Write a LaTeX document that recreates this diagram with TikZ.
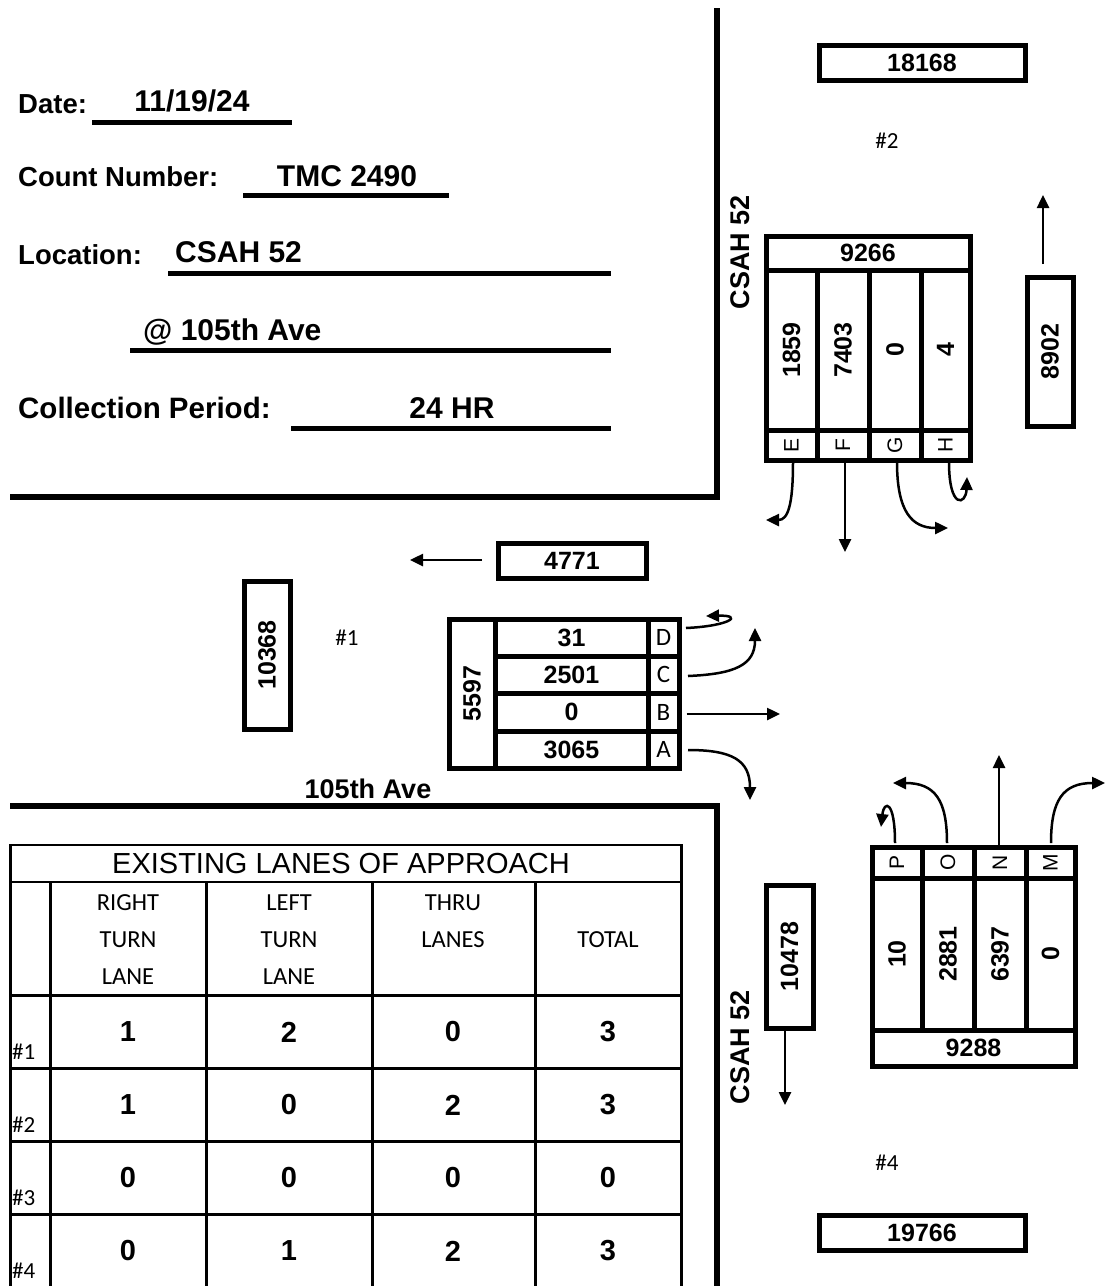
\documentclass[tikz,border=0pt]{standalone}
\usepackage{fontspec}
\setmainfont{Liberation Sans}
\newfontfamily\calfont{Carlito}
\usepackage{graphicx}
\usetikzlibrary{arrows.meta}
\newcommand\fsz[1]{\fontsize{#1}{#1}\selectfont}
\newcommand\rot[1]{\rotatebox{90}{#1}}
\begin{document}
\begin{tikzpicture}[x=1pt,y=-1pt,
  lbl/.style={font=\bfseries\fsz{27.5}, anchor=base west, inner sep=0},
  val/.style={font=\bfseries\fsz{30}, anchor=base, inner sep=0},
  road/.style={line width=6pt},
  uline/.style={line width=5pt},
  box/.style={draw, line width=5pt, inner sep=0, font=\bfseries\fsz{25}},
  cell/.style={draw, line width=5pt, inner sep=0, font=\bfseries\fsz{25}},
  lcell/.style={draw, line width=5pt, inner sep=0, font=\fsz{21}},
  ccell/.style={draw, line width=5pt, inner sep=0, font=\calfont\fsz{25}},
  arr/.style={line width=2.5pt, -{Triangle[length=13pt,width=12pt]}},
  hashlbl/.style={font=\calfont\fsz{23}, inner sep=0},
  tline/.style={line width=3pt},
  thin/.style={line width=1.5pt},
  hdr/.style={font=\calfont\fontsize{24.5}{37}\selectfont, align=center, inner sep=0},
  tval/.style={font=\bfseries\fsz{29}, inner sep=0},
  road lbl/.style={font=\bfseries\fsz{27}, inner sep=0}
]
\useasboundingbox (0,0) rectangle (1111,1286);
\fill[white] (0,0) rectangle (1111,1286);

% ---- roads
\draw[road] (717,8) -- (717,500);
\draw[road] (10,497) -- (720,497);
\draw[road] (10,806) -- (720,806);
\draw[road] (717,803) -- (717,1290);

% ---- header info
\node[lbl] (dateL) at (18,113) {Date:};
\node[val] (dateV) at (192,111) {11/19/24};
\draw[uline] (92,122) -- (292,122);
\node[lbl] (cntL) at (18,186) {Count Number:};
\node[val] (cntV) at (347,186) {TMC 2490};
\draw[uline] (243,195) -- (449,195);
\node[lbl] (locL) at (18,264) {Location:};
\node[val, anchor=base west] (locV) at (175,262) {CSAH 52};
\draw[uline] (168,273) -- (611,273);
\node[val, anchor=base west] (locV2) at (143,340) {@ 105th Ave};
\draw[uline] (130,350) -- (611,350);
\node[lbl, font=\bfseries\fsz{29.5}] (perL) at (18,418) {Collection Period:};
\node[val] (perV) at (452,418) {24 HR};
\draw[uline] (291,428) -- (611,428);

% ---- road names
\node[road lbl] (csahN) at (740,252) {\rot{CSAH 52}};
\node[road lbl] (csahS) at (740,1047) {\rot{CSAH 52}};
\node[road lbl, anchor=base] (ave) at (368,798) {105th Ave};

% ---- approach labels
\node[hashlbl] (h2) at (887,141) {\#2};
\node[hashlbl] (h1) at (347,638) {\#1};
\node[hashlbl] (h4) at (887,1163) {\#4};

% ---- single boxes
\node[box, minimum width=206, minimum height=35] (b18168) at (922,62.5) {18168};
\node[box, minimum width=46, minimum height=149] (b8902) at (1050,351.5) {\rot{8902}};
\node[box, minimum width=148, minimum height=35] (b4771) at (572,560.5) {4771};
\node[box, minimum width=46, minimum height=148] (b10368) at (267,655) {\rot{10368}};
\node[box, minimum width=47, minimum height=143] (b10478) at (789.5,956.5) {\rot{10478}};
\node[box, minimum width=206, minimum height=35] (b19766) at (922,1232.5) {19766};

\coordinate (e8902s) at (1043,264);
\coordinate (e8902e) at (1043,195);
\draw[arr] (e8902s) -- (e8902e);
\coordinate (e4771s) at (482,560);
\coordinate (e4771e) at (410,560);
\draw[arr] (e4771s) -- (e4771e);
\coordinate (e10478e) at (785,1105);
\draw[arr] (b10478.south -| e10478e) -- (e10478e);

% ---- group #2 (southbound)
\node[cell, minimum width=204, minimum height=34] (g2t) at (868,253) {9266};
\node[cell, minimum width=51, minimum height=160] (g2e) at (791.5,350) {\rot{1859}};
\node[cell, minimum width=52, minimum height=160] (g2f) at (843,350) {\rot{7403}};
\node[cell, minimum width=52, minimum height=160] (g2g) at (895,350) {\rot{0}};
\node[cell, minimum width=49, minimum height=160] (g2h) at (945.5,350) {\rot{4}};
\node[lcell, minimum width=51, minimum height=30] (lE) at (791.5,445) {\rot{E}};
\node[lcell, minimum width=52, minimum height=30] (lF) at (843,445) {\rot{F}};
\node[lcell, minimum width=52, minimum height=30] (lG) at (895,445) {\rot{G}};
\node[lcell, minimum width=49, minimum height=30] (lH) at (945.5,445) {\rot{H}};

\coordinate (eE) at (766,520);
\coordinate (eF) at (845,552);
\coordinate (eG) at (948,528);
\coordinate (eH) at (967,477);
\draw[arr] (793,462) .. controls (793,505) and (788,520) .. (eE);
\draw[arr] (lF.south -| eF) -- (eF);
\draw[arr] (897,462) .. controls (897,512) and (912,528) .. (eG);
\draw[arr] (949,462) .. controls (949,510) and (966,505) .. (eH);

% ---- group #1 (eastbound)
\node[cell, minimum width=46, minimum height=149] (g1t) at (472,693.5) {\rot{5597}};
\node[cell, minimum width=153, minimum height=37] (g1d) at (571.5,637.5) {31};
\node[cell, minimum width=153, minimum height=37] (g1c) at (571.5,674.5) {2501};
\node[cell, minimum width=153, minimum height=38] (g1b) at (571.5,712) {0};
\node[cell, minimum width=153, minimum height=37] (g1a) at (571.5,749.5) {3065};
\node[ccell, minimum width=31, minimum height=37] (lD) at (663.5,637.5) {D};
\node[ccell, minimum width=31, minimum height=37] (lC) at (663.5,674.5) {C};
\node[ccell, minimum width=31, minimum height=38] (lB) at (663.5,712) {B};
\node[ccell, minimum width=31, minimum height=37] (lA) at (663.5,749.5) {A};

\coordinate (eD) at (706,616);
\coordinate (eC) at (755,628);
\coordinate (eB) at (780,714);
\coordinate (eA) at (750,800);
\draw[arr] (686,628) .. controls (730,626) and (744,615) .. (eD);
\draw[arr] (688,676) .. controls (735,674) and (755,665) .. (eC);
\draw[arr] (lB.east |- eB) ++(5,0) -- (eB);
\draw[arr] (688,750) .. controls (732,750) and (750,760) .. (eA);

% ---- group #4 (northbound)
\node[lcell, minimum width=50, minimum height=31] (lP) at (897,862.5) {\rot{P}};
\node[lcell, minimum width=52, minimum height=31] (lO) at (948,862.5) {\rot{O}};
\node[lcell, minimum width=52, minimum height=31] (lN) at (1000,862.5) {\rot{N}};
\node[lcell, minimum width=49, minimum height=31] (lM) at (1050.5,862.5) {\rot{M}};
\node[cell, minimum width=50, minimum height=152] (g4p) at (897,954) {\rot{10}};
\node[cell, minimum width=52, minimum height=152] (g4o) at (948,954) {\rot{2881}};
\node[cell, minimum width=52, minimum height=152] (g4n) at (1000,954) {\rot{6397}};
\node[cell, minimum width=49, minimum height=152] (g4m) at (1050.5,954) {\rot{0}};
\node[cell, minimum width=203, minimum height=36] (g4t) at (973.5,1048) {9288};

\coordinate (eP) at (881,827);
\coordinate (eO) at (893,783);
\coordinate (eN) at (999,755);
\coordinate (eM) at (1105,783);
\draw[arr] (895,843) .. controls (895,800) and (884,800) .. (eP);
\draw[arr] (947,843) .. controls (947,800) and (935,783) .. (eO);
\draw[arr] (lN.north -| eN) -- (eN);
\draw[arr] (1051,843) .. controls (1051,800) and (1063,783) .. (eM);

% ---- table
\draw[thin] (10,845) -- (681,845);
\draw[thin] (10,882) -- (681,882);
\draw[tline] (10,844) -- (10,1290);
\draw[tline] (681,844) -- (681,1290);
\foreach \xx in {50,206,372,535} \draw[tline] (\xx,882) -- (\xx,1290);
\foreach \yy in {995,1068,1141,1214} \draw[tline] (10,\yy) -- (681,\yy);

\node[font=\fsz{29}, inner sep=0] (ttl) at (341,864) {EXISTING LANES OF APPROACH};
\node[hdr] (hR) at (128,940) {RIGHT\\TURN\\LANE};
\node[hdr] (hL) at (289,940) {LEFT\\TURN\\LANE};
\node[hdr] (hT) at (453,921.5) {THRU\\LANES};
\node[hdr] (hS) at (608,940) {TOTAL};

\node[hashlbl, anchor=west] (r1) at (12,1052) {\#1};
\node[hashlbl, anchor=west] (r2) at (12,1125) {\#2};
\node[hashlbl, anchor=west] (r3) at (12,1198) {\#3};
\node[hashlbl, anchor=west] (r4) at (12,1271) {\#4};

\node[tval] (v11) at (128,1032) {1};
\node[tval] (v12) at (289,1032) {2};
\node[tval] (v13) at (453,1032) {0};
\node[tval] (v14) at (608,1032) {3};
\node[tval] (v21) at (128,1105) {1};
\node[tval] (v22) at (289,1105) {0};
\node[tval] (v23) at (453,1105) {2};
\node[tval] (v24) at (608,1105) {3};
\node[tval] (v31) at (128,1178) {0};
\node[tval] (v32) at (289,1178) {0};
\node[tval] (v33) at (453,1178) {0};
\node[tval] (v34) at (608,1178) {0};
\node[tval] (v41) at (128,1251) {0};
\node[tval] (v42) at (289,1251) {1};
\node[tval] (v43) at (453,1251) {2};
\node[tval] (v44) at (608,1251) {3};
\end{tikzpicture}
\end{document}
